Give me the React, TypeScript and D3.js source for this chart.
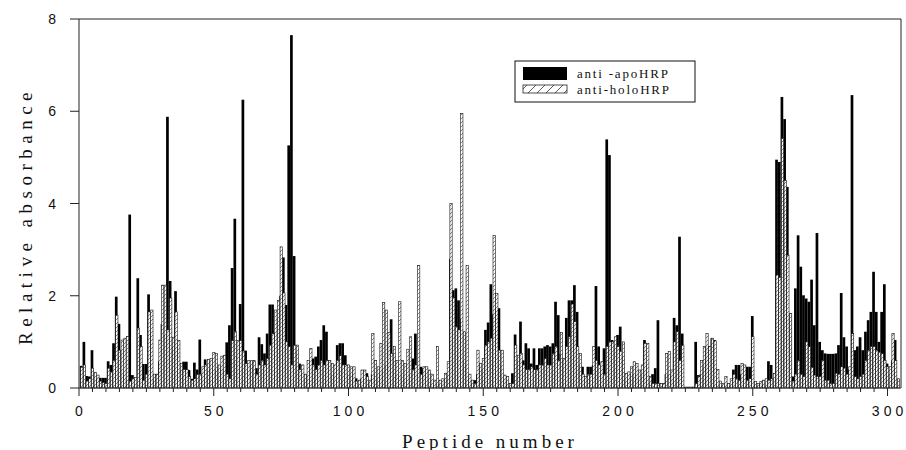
import React, { useEffect, useRef } from 'react';
import * as d3 from 'd3';

// Relative absorbance per peptide (1..304)
const apoHRP = [
  0.48, 1.0, 0.26, 0.25, 0.82, 0.3, 0.2, 0.22, 0.22, 0.22,
  0.58, 0.5, 0.97, 1.98, 1.39, 0.82, 0.3, 0.2, 3.76, 0.28,
  0.1, 2.38, 1.15, 0.52, 0.52, 2.03, 1.2, 0.2, 0.3, 0.58,
  1.39, 1.15, 5.88, 2.32, 0.9, 2.1, 0.9, 0.4, 0.57, 0.57,
  0.39, 0.2, 0.55, 0.4, 1.05, 0.3, 0.62, 0.4, 0.4, 0.4,
  0.4, 0.46, 0.4, 0.4, 0.99, 1.36, 2.6, 3.67, 0.7, 1.82,
  6.25, 0.81, 0.4, 0.5, 0.6, 0.43, 1.1, 0.95, 0.75, 1.18,
  1.81, 1.81, 1.2, 1.5, 2.0, 2.83, 1.8, 5.26, 7.65, 2.86,
  0.79, 0.53, 0.3, 0.2, 0.3, 0.4, 0.64, 0.68, 0.9, 1.04,
  1.36, 1.22, 0.6, 0.3, 0.3, 0.93, 0.97, 0.97, 0.71, 0.3,
  0.3, 0.3, 0.21, 0.1, 0.2, 0.2, 0.32, 0.1, 0.3, 0.3,
  0.2, 0.3, 0.4, 0.5, 1.0, 1.49, 0.75, 0.3, 0.3, 0.3,
  0.2, 0.2, 0.3, 0.64, 1.18, 0.3, 0.46, 0.43, 0.3, 0.2,
  0.1, 0.1, 0.1, 0.1, 0.1, 0.2, 0.3, 2.8, 2.12, 2.16,
  1.9, 1.5, 0.6, 0.5, 0.2, 0.1, 0.17, 0.3, 0.5, 0.4,
  1.26, 1.42, 2.25, 1.6, 1.73, 1.73, 0.5, 0.2, 0.2, 0.1,
  0.32, 1.16, 0.6, 1.44, 0.6, 0.97, 0.86, 0.53, 0.86, 0.5,
  0.86, 0.86, 0.9, 0.93, 0.9, 0.97, 1.87, 1.58, 0.75, 0.6,
  1.52, 1.9, 1.9, 2.23, 1.65, 0.5, 0.46, 0.2, 0.46, 0.46,
  0.5, 2.21, 0.9, 0.3, 0.86, 5.39, 5.05, 1.04, 0.9, 1.15,
  1.33, 0.7, 0.2, 0.2, 0.3, 0.3, 0.3, 0.2, 0.3, 1.04,
  0.5, 0.1, 0.3, 0.43, 1.47, 0.1, 0.1, 0.3, 0.3, 0.3,
  1.52, 1.36, 3.28, 1.18, 0.02, 0.02, 0.02, 0.02, 1.0, 0.28,
  0.3, 0.5, 0.9, 0.9, 1.08, 1.04, 0.1, 0.05, 0.05, 0.05,
  0.05, 0.05, 0.4, 0.5, 0.5, 0.3, 0.2, 0.46, 0.46, 1.56,
  0.1, 0.05, 0.1, 0.1, 0.1, 0.58, 0.5, 0.2, 4.95, 4.9,
  6.31, 5.83, 4.36, 1.6, 0.25, 2.16, 3.31, 2.63, 2.01, 1.94,
  1.87, 2.35, 1.36, 3.36, 1.0, 0.82, 0.75, 0.74, 0.74, 0.74,
  0.75, 0.93, 2.06, 1.1, 0.9, 0.4, 6.35, 0.82, 0.9, 1.1,
  0.82, 1.22, 1.47, 1.65, 2.52, 1.65, 1.0, 1.65, 2.25, 0.53,
  0.3, 0.6, 1.04, 0.2,
];

const holoHRP = [
  0.45, 0.5, 0.15, 0.2, 0.43, 0.34, 0.28, 0.15, 0.12, 0.1,
  0.43, 0.35, 0.6, 1.58, 0.82, 1.04, 1.08, 1.12, 0.15, 0.2,
  0.23, 1.3, 0.9, 0.17, 0.3, 1.65, 1.69, 0.3, 0.3, 1.04,
  2.23, 2.23, 1.26, 1.95, 1.1, 1.65, 1.03, 0.53, 0.4, 0.4,
  0.25, 0.17, 0.2, 0.3, 0.3, 0.46, 0.5, 0.62, 0.64, 0.77,
  0.75, 0.5, 0.69, 0.71, 0.3, 0.2, 1.03, 1.22, 1.03, 1.03,
  0.8, 0.53, 0.6, 0.59, 0.59, 0.3, 0.5, 0.6, 0.5, 0.64,
  0.93, 1.18, 1.69, 1.9, 3.06, 2.06, 1.0, 0.9, 0.5, 0.93,
  0.93, 0.4, 0.5, 0.3, 0.6, 0.86, 0.5, 0.4, 0.5, 0.6,
  0.5, 0.6, 0.6, 0.53, 0.5, 0.6, 0.7, 0.5, 0.5, 0.5,
  0.46, 0.46, 0.15, 0.17, 0.39, 0.39, 0.25, 0.17, 1.18, 0.6,
  0.46, 0.97, 1.85, 1.69, 1.2, 0.75, 0.9, 0.6, 1.87, 0.6,
  0.53, 0.84, 1.11, 0.4, 0.5, 2.66, 0.3, 0.46, 0.46, 0.39,
  0.3, 0.17, 0.9, 0.17, 0.2, 0.32, 0.57, 4.0, 1.96, 1.33,
  1.26, 5.95, 1.22, 2.66, 0.3, 0.17, 0.1, 0.82, 0.53, 0.64,
  0.93, 1.0, 1.08, 3.31, 2.05, 0.82, 0.82, 0.28, 0.25, 0.1,
  0.1, 0.93, 0.71, 0.75, 0.5, 0.4, 0.4, 0.46, 0.4, 0.4,
  0.5, 0.5, 0.64, 0.5, 0.5, 0.75, 0.9, 0.6, 1.2, 0.64,
  0.9, 1.11, 1.82, 1.44, 0.9, 0.75, 0.3, 0.25, 0.3, 0.3,
  0.9, 0.6, 0.5, 0.57, 0.3, 0.9, 1.0, 1.0, 1.11, 0.9,
  0.8, 1.0, 0.32, 0.35, 0.46, 0.57, 0.53, 0.39, 0.5, 0.97,
  0.97, 0.25, 0.1, 0.1, 0.1, 0.1, 0.1, 0.75, 0.79, 0.39,
  1.0, 1.22, 0.6, 0.93, 0.02, 0.02, 0.02, 0.02, 0.1, 0.25,
  0.6, 0.9, 1.18, 0.9, 1.08, 1.02, 0.4, 0.15, 0.1, 0.25,
  0.1, 0.2, 0.3, 0.2, 0.17, 0.53, 0.5, 0.17, 0.2, 1.11,
  0.14, 0.1, 0.14, 0.17, 0.2, 0.17, 0.2, 0.32, 2.45, 2.4,
  5.41, 4.5, 2.88, 1.62, 0.15, 0.3, 0.6, 0.3, 0.25, 1.0,
  0.9, 0.45, 0.28, 0.25, 0.25, 0.6, 0.17, 0.17, 0.1, 0.1,
  0.32, 0.3, 0.46, 0.43, 0.3, 0.46, 1.18, 0.25, 0.2, 0.25,
  0.3, 0.6, 0.82, 0.9, 0.9, 0.82, 0.78, 0.75, 0.6, 0.46,
  0.46, 1.18, 0.6, 0.2,
];

const peptides = apoHRP.map((_, i) => i + 1);
const xTicks = [0, 50, 100, 150, 200, 250, 300];
const yTicks = [0, 2, 4, 6, 8];
const seriesNames = ['anti -apoHRP', 'anti-holoHRP'];

const App: React.FC = () => {
  const svgRef = useRef<SVGSVGElement>(null);

  useEffect(() => {
    if (!svgRef.current) return;
    const width = 906;
    const height = 450;
    const svg = d3.select(svgRef.current).attr('width', width).attr('height', height);
    svg.selectAll('*').remove();

    const x = d3.scaleLinear().domain([0, 305]).range([79, 901]);
    const y = d3.scaleLinear().domain([0, 8]).range([388, 19]);
    const bw = x(1) - x(0);
    const axisColor = '#222';
    const sans = '"Liberation Sans", Arial, sans-serif';
    const serif = '"Liberation Serif", "Times New Roman", serif';

    // hatch pattern
    const defs = svg.append('defs');
    const pat = defs
      .append('pattern')
      .attr('id', 'hatch')
      .attr('patternUnits', 'userSpaceOnUse')
      .attr('width', 4)
      .attr('height', 4);
    pat.append('rect').attr('width', 4).attr('height', 4).attr('fill', '#fff');
    pat
      .append('path')
      .attr('d', 'M-1,1 l2,-2 M0,4 l4,-4 M3,5 l2,-2')
      .attr('stroke', '#555')
      .attr('stroke-width', 0.7);

    const pattern2 = defs
      .append('pattern')
      .attr('id', 'hatchLegend')
      .attr('patternUnits', 'userSpaceOnUse')
      .attr('width', 9)
      .attr('height', 9);
    pattern2.append('rect').attr('width', 9).attr('height', 9).attr('fill', '#fff');
    pattern2
      .append('path')
      .attr('d', 'M0,9 l9,-9')
      .attr('stroke', '#333')
      .attr('stroke-width', 0.8);

    const g = svg.append('g');

    // apo bars (black, behind)
    g.selectAll('rect.apo')
      .data(peptides)
      .enter()
      .append('rect')
      .attr('class', 'apo')
      .attr('x', (d) => x(d) - bw / 2 - 0.5)
      .attr('width', bw)
      .attr('y', (d, i) => y(apoHRP[i]))
      .attr('height', (d, i) => y(0) - y(apoHRP[i]))
      .attr('fill', '#000');

    // holo bars (hatched, front)
    g.selectAll('rect.holo')
      .data(peptides)
      .enter()
      .append('rect')
      .attr('class', 'holo')
      .attr('x', (d) => x(d) - bw / 2 + 0.3)
      .attr('width', bw - 0.4)
      .attr('y', (d, i) => y(holoHRP[i]))
      .attr('height', (d, i) => y(0) - y(holoHRP[i]))
      .attr('fill', 'url(#hatch)')
      .attr('stroke', '#111')
      .attr('stroke-width', 0.6);

    // frame
    const [x0, x1] = x.range();
    svg
      .append('path')
      .attr('d', `M${x0},${y(0)} V${y(8)} H${x1} V${y(0)} H${x0}`)
      .attr('fill', 'none')
      .attr('stroke', axisColor)
      .attr('stroke-width', 1);

    // x ticks
    const minor = d3.range(0, 305, 5);
    svg
      .append('g')
      .selectAll('line')
      .data(minor)
      .enter()
      .append('line')
      .attr('x1', (d) => x(d))
      .attr('x2', (d) => x(d))
      .attr('y1', y(0))
      .attr('y2', (d) => y(0) + (d % 50 === 0 ? 8 : 4))
      .attr('stroke', axisColor)
      .attr('stroke-width', 1);

    svg
      .append('g')
      .selectAll('text')
      .data(xTicks)
      .enter()
      .append('text')
      .attr('x', (d) => x(d) + 2)
      .attr('y', 416)
      .attr('text-anchor', 'middle')
      .attr('font-family', sans)
      .attr('font-size', 14)
      .attr('letter-spacing', 4)
      .attr('fill', '#111')
      .text((d) => d);

    // y ticks
    svg
      .append('g')
      .selectAll('line')
      .data(yTicks)
      .enter()
      .append('line')
      .attr('x1', x0 - 9)
      .attr('x2', x0)
      .attr('y1', (d) => y(d))
      .attr('y2', (d) => y(d))
      .attr('stroke', axisColor)
      .attr('stroke-width', 1);

    svg
      .append('g')
      .selectAll('text')
      .data(yTicks)
      .enter()
      .append('text')
      .attr('x', 56)
      .attr('y', (d) => y(d) + 5)
      .attr('text-anchor', 'end')
      .attr('font-family', sans)
      .attr('font-size', 14)
      .attr('fill', '#111')
      .text((d) => d);

    // axis titles
    svg
      .append('text')
      .attr('x', 490)
      .attr('y', 448)
      .attr('text-anchor', 'middle')
      .attr('font-family', serif)
      .attr('font-size', 19)
      .attr('letter-spacing', 4)
      .attr('fill', '#111')
      .text('Peptide number');

    svg
      .append('text')
      .attr('transform', 'translate(32,216) rotate(-90)')
      .attr('text-anchor', 'middle')
      .attr('font-family', serif)
      .attr('font-size', 19)
      .attr('letter-spacing', 5.5)
      .attr('fill', '#111')
      .text('Relative absorbance');

    // legend
    const lg = svg.append('g');
    lg.append('rect')
      .attr('x', 515)
      .attr('y', 61)
      .attr('width', 180)
      .attr('height', 41)
      .attr('fill', '#fff')
      .attr('stroke', '#111')
      .attr('stroke-width', 1);
    lg.append('rect').attr('x', 523).attr('y', 67).attr('width', 44).attr('height', 13).attr('fill', '#000');
    lg.append('rect')
      .attr('x', 523)
      .attr('y', 85)
      .attr('width', 44)
      .attr('height', 8)
      .attr('fill', 'url(#hatchLegend)')
      .attr('stroke', '#222')
      .attr('stroke-width', 0.8);
    lg.selectAll('text')
      .data(seriesNames)
      .enter()
      .append('text')
      .attr('x', 577)
      .attr('y', (d, i) => 78 + i * 16)
      .attr('font-family', serif)
      .attr('font-size', 13)
      .attr('letter-spacing', 1.8)
      .attr('fill', '#111')
      .text((d) => d);
  }, []);

  return (
    <svg
      ref={svgRef}
      style={{ position: 'absolute', left: 0, top: 0, background: '#fff' }}
    />
  );
};

export default App;
